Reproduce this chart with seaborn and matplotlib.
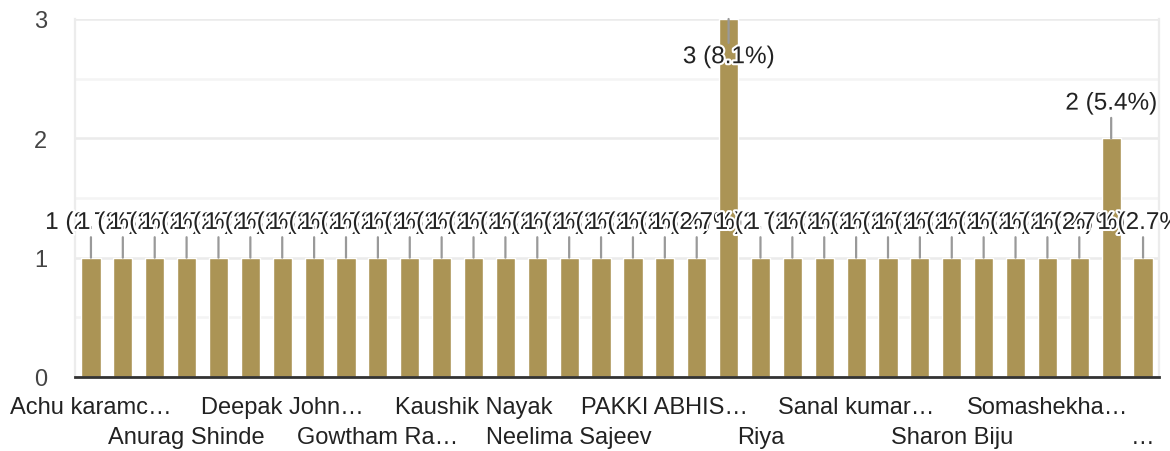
import matplotlib
matplotlib.use("Agg")
import matplotlib.pyplot as plt
import matplotlib.patheffects as pe
import seaborn as sns
import pandas as pd

# ---- data ----
counts = [1, 1, 1, 1, 1, 1, 1, 1, 1, 1,
          1, 1, 1, 1, 1, 1, 1, 1, 1, 1,
          3, 1, 1, 1, 1, 1, 1, 1, 1, 1,
          1, 1, 2, 1]
tick_labels = ["Achu karamc…", "Anurag Shinde", "Deepak John…", "Gowtham Ra…",
               "Kaushik Nayak", "Neelima Sajeev", "PAKKI ABHIS…", "Riya",
               "Sanal kumar…", "Sharon Biju", "Somashekha…", "…"]
label_step = 3
y_ticks = [0, 1, 2, 3]

# ---- style ----
bar_color = "#ab9455"
text_color = "#222222"
sns.set_style("white")
plt.rcParams["font.family"] = ["Liberation Sans", "DejaVu Sans"]

fig = plt.figure(figsize=(11.7, 4.52), dpi=100)
ax = fig.add_axes([75 / 1170, 74 / 452, 1084 / 1170, 358 / 452])

df = pd.DataFrame({"idx": list(range(len(counts))), "count": counts})
sns.barplot(data=df, x="idx", y="count", color=bar_color, saturation=1,
            width=0.6, ax=ax, errorbar=None)

ax.set_xlim(-0.5, len(counts) - 0.5)
ax.set_ylim(0, max(y_ticks))
ax.set_yticks(y_ticks)
ax.set_yticks([0.5, 1.5, 2.5], minor=True)
ax.yaxis.grid(True, which="major", color="#ebebeb", lw=1.8)
ax.yaxis.grid(True, which="minor", color="#f4f4f4", lw=1.8)
ax.set_axisbelow(True)
ax.set_xlabel("")
ax.set_ylabel("")

for s in ["left", "right"]:
    ax.spines[s].set_color("#ececec")
    ax.spines[s].set_linewidth(1.6)
ax.spines["top"].set_visible(False)
ax.spines["bottom"].set_color("#333333")
ax.spines["bottom"].set_linewidth(2.0)
ax.spines["bottom"].set_zorder(5)

pos = list(range(0, len(counts), label_step))
labs = [t if k % 2 == 0 else "\n" + t for k, t in enumerate(tick_labels)]
ax.set_xticks(pos)
ax.set_xticklabels(labs, linespacing=1.45)
ax.tick_params(axis="x", length=0, pad=14, labelsize=17, labelcolor=text_color)
ax.tick_params(axis="y", which="both", length=0, pad=20, labelsize=17,
               labelcolor="#444444")

total = sum(counts)
ymax = max(y_ticks)
for i, v in enumerate(counts):
    txt = f"{v} ({v / total * 100:.1f}%)"
    off = -27.5 if v >= ymax else 25
    ax.annotate(txt, xy=(i, v), xytext=(0, off), textcoords="offset points",
                ha="center", va="center", fontsize=17.5, color=text_color,
                path_effects=[pe.withStroke(linewidth=3, foreground="white")],
                arrowprops=dict(arrowstyle="-", color="#999999", lw=1.6,
                                shrinkA=0, shrinkB=0),
                annotation_clip=False)

fig.savefig("out.png", dpi=100)
